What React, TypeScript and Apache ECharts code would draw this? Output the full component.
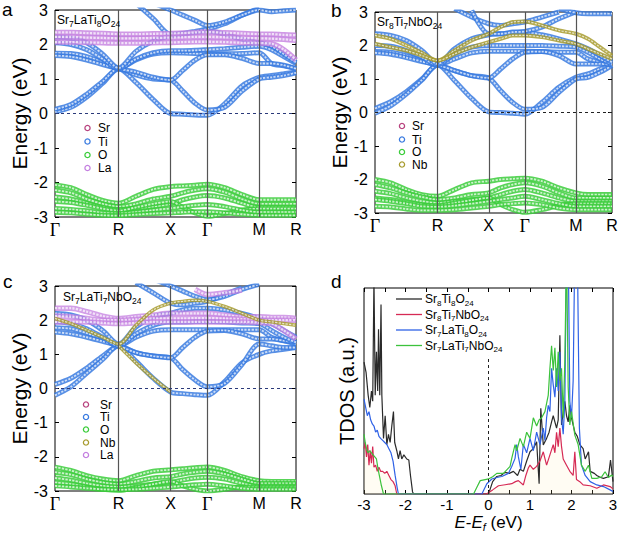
import React, { useEffect, useRef } from 'react';
import * as echarts from 'echarts';

const SANS = '"Liberation Sans", Arial, Helvetica, sans-serif';
const SERIF = '"Liberation Serif", "Times New Roman", serif';

// ---------------- k-path (Γ-R-X-Γ-M-R) ----------------
const kPoints = [0, 0.433, 0.866, 1.299, 1.732, 2.203, 2.675, 3.146, 3.479, 3.813, 4.146, 4.617, 5.089, 5.56, 5.893, 6.227, 6.56];
const kTickValues = [0, 1.732, 3.146, 4.146, 5.56, 6.56];
const kTickLabels = ['Γ', 'R', 'X', 'Γ', 'M', 'R'];

// ---------------- panel a : Sr7LaTi8O24 ----------------
const titleA = 'Sr7LaTi8O24';
const legendA = ['Sr', 'Ti', 'O', 'La'];
const aTi = [
  [0.05, 0.18, 0.48, 0.88, 1.30, 0.90, 0.40, 0.00, -0.02, -0.04, -0.05, 0.28, 0.80, 1.05, 1.10, 1.15, 1.20],
  [0.12, 0.26, 0.56, 0.93, 1.30, 1.12, 1.00, 0.97, 0.65, 0.30, 0.10, 0.18, 0.65, 1.00, 1.05, 1.10, 1.18],
  [1.75, 1.74, 1.65, 1.48, 1.30, 1.55, 1.72, 1.76, 1.75, 1.74, 1.73, 1.73, 1.74, 1.76, 1.45, 1.38, 1.30],
  [1.68, 1.65, 1.55, 1.42, 1.30, 1.20, 1.05, 0.97, 1.25, 1.55, 1.70, 1.70, 1.60, 1.45, 1.45, 1.40, 1.30],
  [2.05, 2.00, 1.85, 1.58, 1.30, 1.58, 1.76, 1.82, 1.82, 1.83, 1.85, 1.88, 1.92, 1.95, 1.85, 1.65, 1.45],
  [2.22, 2.18, 2.05, 1.72, 1.32, 1.80, 2.10, 2.25, 2.30, 2.35, 2.40, 2.30, 2.15, 2.05, 1.95, 1.72, 1.48],
  [null, null, null, null, null, 3.20, 2.75, 2.30, 2.32, 2.38, 2.45, 2.60, 2.85, 3.05, null, null, null],
  [null, null, null, null, null, null, 3.20, 3.00, 2.85, 2.70, 2.55, 2.65, 2.85, 3.00, 2.95, 2.98, 3.00],
];
const aLa = [
  [2.35, 2.35, 2.33, 2.32, 2.30, 2.30, 2.31, 2.32, 2.33, 2.35, 2.36, 2.34, 2.32, 2.30, 2.30, 2.28, 2.27],
  [2.22, 2.22, 2.20, 2.19, 2.18, 2.18, 2.19, 2.20, 2.21, 2.22, 2.22, 2.21, 2.19, 2.18, 2.17, 2.15, 2.12],
  [2.07, 2.07, 2.06, 2.05, 2.04, 2.04, 2.05, 2.06, 2.07, 2.08, 2.08, 2.07, 2.05, 2.04, 2.02, 1.85, 1.55],
];
const aO = [
  [-2.07, -2.15, -2.35, -2.52, -2.60, -2.40, -2.20, -2.12, -2.10, -2.08, -2.05, -2.15, -2.35, -2.50, -2.50, -2.50, -2.50],
  [-2.22, -2.30, -2.48, -2.62, -2.70, -2.62, -2.48, -2.40, -2.30, -2.22, -2.18, -2.28, -2.48, -2.62, -2.62, -2.62, -2.62],
  [-2.42, -2.48, -2.60, -2.72, -2.78, -2.75, -2.70, -2.62, -2.50, -2.42, -2.38, -2.45, -2.60, -2.72, -2.72, -2.72, -2.72],
  [-2.55, -2.58, -2.66, -2.76, -2.82, -2.72, -2.62, -2.55, -2.72, -2.88, -2.98, -2.90, -2.80, -2.76, -2.76, -2.76, -2.76],
  [-2.75, -2.78, -2.82, -2.88, -2.90, -2.86, -2.80, -2.75, -2.70, -2.66, -2.64, -2.70, -2.80, -2.86, -2.86, -2.86, -2.86],
  [-2.86, -2.88, -2.92, -2.95, -2.96, -2.93, -2.90, -2.88, -2.86, -2.85, -2.85, -2.88, -2.92, -2.95, -2.95, -2.95, -2.95],
];

// ---------------- panel b : Sr8Ti7NbO24 ----------------
const titleB = 'Sr8Ti7NbO24';
const legendB = ['Sr', 'Ti', 'O', 'Nb'];
const bTi = [
  [0.12, 0.32, 0.62, 1.00, 1.42, 0.95, 0.42, 0.02, 0.00, -0.02, -0.05, 0.30, 0.75, 1.05, 1.15, 1.30, 1.42],
  [-0.02, 0.20, 0.55, 0.97, 1.42, 1.25, 1.10, 1.03, 0.65, 0.30, 0.10, 0.15, 0.60, 1.00, 1.05, 1.20, 1.40],
  [1.82, 1.80, 1.70, 1.55, 1.42, 1.60, 1.78, 1.83, 1.83, 1.83, 1.83, 1.82, 1.80, 1.80, 1.60, 1.50, 1.42],
  [1.78, 1.74, 1.64, 1.52, 1.42, 1.25, 1.10, 1.03, 1.30, 1.60, 1.80, 1.82, 1.70, 1.45, 1.45, 1.45, 1.43],
  [2.00, 1.98, 1.85, 1.65, 1.42, 1.75, 1.95, 2.00, 2.00, 2.00, 2.00, 2.00, 1.98, 1.95, 1.80, 1.60, 1.45],
  [2.35, 2.30, 2.15, 1.85, 1.45, 1.90, 2.20, 2.32, 2.35, 2.38, 2.40, 2.32, 2.20, 2.05, 1.90, 1.70, 1.50],
  [null, null, null, null, null, 3.10, 2.85, 2.65, 2.60, 2.65, 2.70, 2.85, 3.00, null, null, null, null],
  [null, null, null, null, null, null, 3.05, 2.35, 2.35, 2.40, 2.42, 2.55, 2.80, 3.00, null, null, null],
  [null, null, null, null, null, null, null, null, null, null, null, null, 3.10, 2.98, 2.95, 2.95, 2.95],
];
const bNb = [
  [2.30, 2.20, 2.00, 1.78, 1.55, 1.85, 2.15, 2.35, 2.55, 2.70, 2.72, 2.60, 2.45, 2.35, 2.20, 1.95, 1.70],
  [2.05, 1.95, 1.85, 1.70, 1.55, 1.75, 1.95, 2.10, 2.20, 2.30, 2.30, 2.25, 2.15, 2.05, 1.90, 1.75, 1.60],
];
const bO = [
  [-2.00, -2.10, -2.30, -2.45, -2.50, -2.30, -2.10, -2.05, -2.00, -1.98, -1.96, -2.05, -2.25, -2.40, -2.45, -2.45, -2.45],
  [-2.15, -2.25, -2.40, -2.52, -2.60, -2.55, -2.45, -2.40, -2.25, -2.15, -2.10, -2.20, -2.40, -2.55, -2.55, -2.55, -2.55],
  [-2.35, -2.42, -2.55, -2.65, -2.70, -2.65, -2.60, -2.55, -2.45, -2.35, -2.30, -2.40, -2.55, -2.65, -2.65, -2.65, -2.65],
  [-2.55, -2.60, -2.68, -2.75, -2.78, -2.70, -2.62, -2.55, -2.75, -2.90, -2.98, -2.90, -2.78, -2.72, -2.72, -2.72, -2.72],
  [-2.60, -2.65, -2.72, -2.80, -2.82, -2.78, -2.72, -2.65, -2.60, -2.55, -2.50, -2.60, -2.72, -2.80, -2.80, -2.80, -2.80],
  [-2.80, -2.82, -2.88, -2.92, -2.92, -2.90, -2.85, -2.80, -2.75, -2.72, -2.70, -2.75, -2.85, -2.90, -2.90, -2.90, -2.90],
];

// ---------------- panel c : Sr7LaTi7NbO24 ----------------
const titleC = 'Sr7LaTi7NbO24';
const legendC = ['Sr', 'Ti', 'O', 'Nb', 'La'];
const cTi = [
  [0.12, 0.30, 0.60, 0.95, 1.25, 0.80, 0.30, -0.10, -0.15, -0.18, -0.20, 0.20, 0.75, 1.00, 1.10, 1.15, 1.20],
  [-0.20, 0.05, 0.45, 0.85, 1.25, 1.05, 0.95, 0.90, 0.55, 0.25, 0.05, 0.15, 0.70, 1.30, 1.25, 1.20, 1.20],
  [1.78, 1.75, 1.62, 1.45, 1.25, 1.50, 1.68, 1.72, 1.72, 1.72, 1.72, 1.72, 1.72, 1.72, 1.50, 1.40, 1.30],
  [1.65, 1.60, 1.50, 1.38, 1.25, 1.05, 0.95, 0.90, 1.20, 1.50, 1.68, 1.70, 1.60, 1.45, 1.45, 1.40, 1.35],
  [1.95, 1.90, 1.75, 1.50, 1.25, 1.60, 1.85, 1.95, 1.95, 1.96, 1.97, 1.95, 1.92, 1.90, 1.70, 1.50, 1.35],
  [2.20, 2.15, 2.00, 1.70, 1.30, 1.80, 2.10, 2.20, 2.30, 2.35, 2.35, 2.30, 2.20, 2.05, 1.90, 1.70, 1.50],
  [null, null, null, null, null, 3.10, 2.80, 2.50, 2.45, 2.50, 2.55, 2.75, 2.95, null, null, null, null],
  [null, null, null, null, null, null, 3.20, 3.00, 2.85, 2.70, 2.60, 2.70, 2.90, 3.05, null, null, null],
];
const cLa = [
  [2.35, 2.35, 2.25, 2.12, 2.05, 2.10, 2.15, 2.20, 2.20, 2.20, 2.20, 2.15, 2.10, 2.10, 2.08, 2.08, 2.05],
  [2.12, 2.10, 2.05, 2.00, 2.00, 2.02, 2.05, 2.05, 2.05, 2.06, 2.06, 2.05, 2.03, 2.00, 2.00, 2.00, 2.00],
  [1.95, 1.95, 1.95, 1.92, 1.90, 1.92, 1.95, 1.95, 1.95, 1.95, 1.95, 1.95, 1.95, 1.93, 1.90, 1.70, 1.45],
  [null, null, null, null, null, null, null, null, null, 2.90, 2.75, 2.80, 2.88, null, null, null, null],
];
const cNb = [
  [2.05, 1.90, 1.70, 1.50, 1.30, 1.85, 2.30, 2.50, 2.55, 2.58, 2.55, 2.40, 2.20, 2.00, 1.95, 1.90, 1.85],
  [null, null, null, null, 1.25, 0.75, 0.30, -0.10, null, null, null, null, null, null, null, null, null],
];
const cO = [
  [-2.30, -2.40, -2.55, -2.65, -2.70, -2.55, -2.42, -2.38, -2.35, -2.32, -2.30, -2.40, -2.58, -2.70, -2.72, -2.72, -2.72],
  [-2.45, -2.52, -2.65, -2.75, -2.80, -2.72, -2.62, -2.58, -2.50, -2.45, -2.42, -2.50, -2.65, -2.78, -2.78, -2.78, -2.78],
  [-2.62, -2.68, -2.78, -2.85, -2.88, -2.85, -2.80, -2.75, -2.68, -2.62, -2.60, -2.65, -2.78, -2.86, -2.86, -2.86, -2.86],
  [-2.75, -2.80, -2.88, -2.95, -2.98, -2.90, -2.80, -2.72, -2.85, -2.95, -3.00, -2.95, -2.88, -2.90, -2.90, -2.90, -2.90],
  [-2.85, -2.88, -2.92, -2.95, -2.96, -2.95, -2.92, -2.88, -2.85, -2.82, -2.80, -2.85, -2.92, -2.95, -2.95, -2.95, -2.95],
];

// ---------------- panel d : TDOS ----------------
const dosNames = ['Sr8Ti8O24', 'Sr8Ti7NbO24', 'Sr7LaTi8O24', 'Sr7LaTi7NbO24'];
const dosSr8Ti8O24 = [
  [-3, 64], [-2.95, 59], [-2.9, 48], [-2.86, 42], [-2.82, 50], [-2.79, 45], [-2.76, 105], [-2.73, 48], [-2.7, 69],
  [-2.67, 50], [-2.65, 80], [-2.62, 48], [-2.59, 92], [-2.57, 48], [-2.53, 27], [-2.49, 38], [-2.45, 24], [-2.41, 29],
  [-2.37, 25], [-2.33, 33], [-2.29, 40], [-2.26, 25], [-2.21, 21], [-2.17, 17], [-2.13, 21], [-2.09, 17], [-2.04, 19],
  [-1.97, 17], [-1.92, 16.5], [-1.88, 9], [-1.83, 1], [-1.8, 0], [0, 0], [0.05, 3], [0.1, 6], [0.2, 8.5], [0.3, 9],
  [0.4, 10.5], [0.5, 10], [0.6, 11], [0.7, 9], [0.76, 12], [0.84, 11], [0.92, 16], [1.0, 20.5], [1.08, 22], [1.16, 25.4],
  [1.22, 5], [1.26, 41.6], [1.32, 23.8], [1.4, 27], [1.46, 30], [1.52, 35], [1.56, 38], [1.64, 32], [1.68, 36], [1.72, 77],
  [1.76, 33.5], [1.8, 40], [1.84, 45], [1.88, 38], [1.92, 35], [1.96, 43], [2.0, 37], [2.08, 30], [2.14, 28], [2.2, 24],
  [2.28, 22], [2.33, 17], [2.41, 20.5], [2.45, 11], [2.55, 10], [2.61, 9], [2.7, 8], [2.77, 7.6], [2.89, 8.4], [2.94, 16.5], [3, 6],
];
const dosSr8Ti7NbO24 = [
  [-3, 22], [-2.97, 25], [-2.94, 18], [-2.91, 24], [-2.88, 14], [-2.85, 21], [-2.82, 15], [-2.79, 23], [-2.76, 13],
  [-2.72, 14], [-2.68, 11], [-2.64, 13], [-2.6, 11], [-2.55, 11], [-2.5, 10], [-2.45, 11], [-2.4, 9], [-2.35, 7],
  [-2.3, 6], [-2.25, 4], [-2.21, 0], [-0.05, 0], [0.1, 2], [0.24, 4], [0.4, 4.5], [0.56, 5], [0.65, 6], [0.72, 6.5],
  [0.84, 4.4], [0.9, 9], [0.96, 12.6], [1.0, 14], [1.08, 12], [1.16, 13.4], [1.24, 16], [1.32, 20.5], [1.4, 14],
  [1.48, 19], [1.56, 24], [1.6, 20], [1.64, 30], [1.68, 23], [1.72, 32], [1.76, 23], [1.8, 17], [1.88, 14], [1.96, 11],
  [2.04, 9], [2.08, 20.5], [2.12, 7], [2.2, 6], [2.28, 4.4], [2.45, 4], [2.61, 2.8], [2.77, 4.4], [2.93, 3.6], [3, 2.5],
];
const dosSr7LaTi8O24 = [
  [-3, 46], [-2.96, 42], [-2.92, 38], [-2.88, 40], [-2.84, 36], [-2.8, 34], [-2.76, 33], [-2.72, 30], [-2.68, 31],
  [-2.64, 28], [-2.6, 27], [-2.55, 26], [-2.5, 25], [-2.45, 24], [-2.4, 22], [-2.35, 20], [-2.3, 16], [-2.25, 9],
  [-2.2, 3], [-2.17, 0], [-0.16, 0], [-0.04, 5], [0.08, 7.3], [0.2, 8], [0.32, 8.5], [0.48, 10], [0.56, 13.4],
  [0.64, 17.3], [0.68, 24], [0.72, 18], [0.78, 12], [0.84, 24], [0.92, 20], [1.0, 27], [1.08, 21], [1.16, 30],
  [1.24, 24], [1.32, 32], [1.36, 26], [1.4, 37], [1.44, 43], [1.48, 40], [1.52, 61], [1.56, 53], [1.6, 47], [1.64, 61],
  [1.68, 50], [1.72, 69], [1.76, 37], [1.8, 29], [1.84, 45], [1.88, 120], [1.92, 120], [1.96, 45], [2.0, 37], [2.04, 55],
  [2.08, 120], [2.14, 120], [2.19, 32], [2.24, 14], [2.33, 9], [2.45, 6], [2.61, 4.4], [2.77, 3.6], [2.93, 2], [3, 1.2],
];
const dosSr7LaTi7NbO24 = [
  [-3, 29], [-2.97, 25], [-2.94, 22], [-2.9, 20], [-2.86, 21], [-2.82, 20], [-2.78, 19], [-2.74, 18], [-2.7, 17],
  [-2.66, 12], [-2.62, 8], [-2.58, 4], [-2.53, 0], [-0.36, 0], [-0.28, 3.3], [-0.2, 6.5], [-0.08, 7], [0, 7.3],
  [0.1, 8.4], [0.2, 10], [0.36, 10], [0.52, 13.4], [0.56, 17.3], [0.64, 24], [0.68, 21], [0.76, 27], [0.84, 23],
  [0.92, 30], [1.0, 27], [1.08, 37], [1.16, 33], [1.22, 36], [1.28, 37], [1.36, 40], [1.44, 48], [1.48, 61], [1.52, 72],
  [1.56, 60], [1.6, 71], [1.64, 52], [1.68, 69], [1.72, 55], [1.76, 61], [1.8, 37], [1.84, 65], [1.88, 120], [1.92, 52],
  [1.96, 33.5], [2.0, 40], [2.08, 28.6], [2.16, 24], [2.24, 14], [2.33, 11], [2.41, 14], [2.49, 7.6], [2.61, 7.6],
  [2.73, 8.4], [2.81, 10.8], [2.89, 8], [2.97, 9.2], [3, 8.5],
];
const fermiMarkerTop = 67;

// ---------------- styling ----------------
const ELEMENT_COLORS: Record<string, string> = {
  Sr: '#b8437f',
  Ti: '#3a7be0',
  O: '#3bcd3b',
  La: '#c47fe0',
  Nb: '#a89c30',
};
const DOS_COLORS = ['#2a2a2a', '#d62a55', '#2f62e6', '#3cc23c'];

function chem(s: string) {
  return s.replace(/(\d+)|([^\d]+)/g, (_t, d, w) => (d ? `{s|${d}}` : `{m|${w}}`));
}
function chemRich(main: number, sub: number) {
  return {
    m: { fontSize: main, lineHeight: main + 4, verticalAlign: 'middle', fontFamily: SANS },
    s: { fontSize: sub, lineHeight: sub, verticalAlign: 'bottom', fontFamily: SANS },
  };
}

// each band: a coloured stroke plus a white dashed core, giving the chained-ring look of fat bands
function bandSeries(list: (number | null)[][], el: string, grid: number, width: number, opacity: number) {
  const out: any[] = [];
  list.forEach((b) => {
    const data = b.map((e, i) => [kPoints[i], e]);
    const common = {
      type: 'line',
      xAxisIndex: grid,
      yAxisIndex: grid,
      data,
      smooth: 0.3,
      showSymbol: false,
      symbol: 'none',
      connectNulls: false,
      silent: true,
      emphasis: { disabled: true },
    };
    out.push({ ...common, name: el, lineStyle: { color: ELEMENT_COLORS[el], width, opacity } });
    out.push({
      ...common,
      name: el + '-core',
      lineStyle: { color: '#ffffff', width: Math.max(1.2, width - 3.2), opacity: 0.7, type: [2.2, 1.3] },
    });
  });
  return out;
}

function guideSeries(grid: number, zeroColor: string) {
  return {
    type: 'line',
    xAxisIndex: grid,
    yAxisIndex: grid,
    data: [],
    silent: true,
    markLine: {
      silent: true,
      symbol: ['none', 'none'],
      label: { show: false },
      emphasis: { disabled: true },
      data: [
        ...kTickValues.slice(1, -1).map((v) => ({ xAxis: v, lineStyle: { color: '#555', width: 1.2, type: 'solid' } })),
        { yAxis: 0, lineStyle: { color: zeroColor, width: 1, type: [3, 3] } },
      ],
    },
  };
}

function kLabel(v: number) {
  let idx = 0;
  let best = 1e9;
  kTickValues.forEach((t, i) => {
    if (Math.abs(t - v) < best) {
      best = Math.abs(t - v);
      idx = i;
    }
  });
  const l = kTickLabels[idx];
  return l === 'Γ' ? '{g|Γ}' : `{n|${l}}`;
}

function bandXAxis(grid: number) {
  return {
    type: 'value',
    gridIndex: grid,
    min: 0,
    max: 6.56,
    axisLine: { show: false },
    axisTick: { show: false },
    splitLine: { show: false },
    axisLabel: {
      customValues: kTickValues,
      formatter: kLabel,
      margin: 4,
      color: '#000',
      showMinLabel: true,
      showMaxLabel: true,
      hideOverlap: false,
      rich: {
        g: { fontFamily: SERIF, fontSize: 18, color: '#000' },
        n: { fontFamily: SANS, fontSize: 16, color: '#000' },
      },
    },
  };
}

function bandYAxis(grid: number) {
  return {
    type: 'value',
    gridIndex: grid,
    min: -3,
    max: 3,
    interval: 1,
    axisLine: { show: false },
    axisTick: { show: true, inside: true, length: 4, lineStyle: { color: '#000' } },
    splitLine: { show: false },
    axisLabel: { fontSize: 16, color: '#000', margin: 7, fontFamily: SANS },
    name: 'Energy (eV)',
    nameLocation: 'middle',
    nameGap: 24,
    nameTextStyle: { fontSize: 21, color: '#000', fontFamily: SANS },
  };
}

function bandYAxisRight(grid: number) {
  return {
    type: 'value',
    gridIndex: grid,
    position: 'right',
    min: -3,
    max: 3,
    interval: 1,
    axisLine: { show: false },
    axisTick: { show: true, inside: true, length: 4, lineStyle: { color: '#000' } },
    splitLine: { show: false },
    axisLabel: { show: false },
  };
}

function textEl(x: number, y: number, text: string, fontSize: number, rich?: any) {
  return {
    type: 'text',
    x,
    y,
    silent: true,
    z: 100,
    style: { text, fontSize, fontFamily: SANS, fill: '#000', align: 'left', verticalAlign: 'middle', rich },
  };
}

function bandLegend(items: string[], cx: number, tx: number, ys: number[]) {
  const els: any[] = [];
  items.forEach((it, i) => {
    els.push({
      type: 'circle',
      silent: true,
      z: 100,
      shape: { cx, cy: ys[i], r: 2.6 },
      style: { fill: 'none', stroke: ELEMENT_COLORS[it], lineWidth: 1.3 },
    });
    els.push(textEl(tx, ys[i], it, 12));
  });
  return els;
}

function buildOption() {
  const grids = [
    { left: 55, top: 10, width: 241, height: 207 },
    { left: 375, top: 12, width: 237, height: 201 },
    { left: 55, top: 286, width: 241, height: 205 },
    { left: 364, top: 288, width: 249, height: 206 },
  ].map((g) => ({ ...g, show: true, borderColor: '#000', borderWidth: 1, backgroundColor: 'transparent', containLabel: false, outerBoundsMode: 'none' }));

  const series: any[] = [];
  // panel a
  series.push(guideSeries(0, '#2b3a7a'));
  series.push(...bandSeries(aO, 'O', 0, 5, 0.85));
  series.push(...bandSeries(aTi, 'Ti', 0, 5, 0.85));
  series.push(...bandSeries(aLa, 'La', 0, 5.5, 0.8));
  // panel b
  series.push(guideSeries(1, '#222'));
  series.push(...bandSeries(bO, 'O', 1, 5, 0.85));
  series.push(...bandSeries(bTi, 'Ti', 1, 5, 0.85));
  series.push(...bandSeries(bNb, 'Nb', 1, 4, 0.85));
  // panel c
  series.push(guideSeries(2, '#2b3a7a'));
  series.push(...bandSeries(cO, 'O', 2, 5, 0.85));
  series.push(...bandSeries(cTi, 'Ti', 2, 5, 0.85));
  series.push(...bandSeries(cLa, 'La', 2, 5.5, 0.75));
  series.push(...bandSeries(cNb, 'Nb', 2, 3.5, 0.85));

  // panel d
  const dosData = [dosSr8Ti8O24, dosSr8Ti7NbO24, dosSr7LaTi8O24, dosSr7LaTi7NbO24];
  dosData.forEach((d, i) => {
    series.push({
      type: 'line',
      name: dosNames[i],
      xAxisIndex: 3,
      yAxisIndex: 3,
      data: d,
      showSymbol: false,
      symbol: 'none',
      silent: true,
      lineStyle: { color: DOS_COLORS[i], width: 1.2 },
      areaStyle: i === 1 ? { color: 'rgba(255,236,170,0.2)' } : undefined,
      emphasis: { disabled: true },
      markLine:
        i === 0
          ? {
              silent: true,
              symbol: ['none', 'none'],
              label: { show: false },
              emphasis: { disabled: true },
              lineStyle: { color: '#222', width: 1, type: [3, 3] },
              data: [[{ coord: [0, 0] }, { coord: [0, fermiMarkerTop] }]],
            }
          : undefined,
    });
  });

  const graphic: any[] = [
    textEl(2, 9.5, 'a', 19),
    textEl(331, 10.5, 'b', 19),
    textEl(3, 281, 'c', 19),
    textEl(331, 281, 'd', 19),
    textEl(57, 20, chem(titleA), 12, chemRich(12, 8.5)),
    textEl(377, 22, chem(titleB), 12, chemRich(12, 8.5)),
    textEl(63, 297, chem(titleC), 12, chemRich(12, 8.5)),
    ...bandLegend(legendA, 87.5, 98, [128, 141.5, 155, 168]),
    ...bandLegend(legendB, 402, 412, [126, 139.5, 152, 164.5]),
    ...bandLegend(legendC, 86, 100, [404.5, 417, 429.5, 442.5, 455]),
  ];
  const dosLegendY = [299, 314.5, 330, 345.5];
  dosNames.forEach((n, i) => {
    graphic.push({
      type: 'line',
      silent: true,
      shape: { x1: 396, y1: dosLegendY[i], x2: 422, y2: dosLegendY[i] },
      style: { stroke: DOS_COLORS[i], lineWidth: 1.3 },
    });
    graphic.push(textEl(425, dosLegendY[i], chem(n), 12, chemRich(12, 8)));
  });

  return {
    animation: false,
    backgroundColor: '#fff',
    textStyle: { fontFamily: SANS },
    grid: grids,
    xAxis: [
      bandXAxis(0),
      bandXAxis(1),
      bandXAxis(2),
      {
        type: 'value',
        gridIndex: 3,
        min: -3,
        max: 3,
        interval: 1,
        axisLine: { show: false },
        axisTick: { show: true, inside: true, length: 4, lineStyle: { color: '#000' } },
        minorTick: { show: true, splitNumber: 2, length: 4, lineStyle: { color: '#000' } },
        splitLine: { show: false },
        minorSplitLine: { show: false },
        axisLabel: { fontSize: 15, color: '#000', margin: 3, fontFamily: SANS },
        name: '{i|E}-{i|E}{f|f} (eV)',
        nameLocation: 'middle',
        nameGap: 12,
        nameTextStyle: {
          fontSize: 17,
          color: '#000',
          fontFamily: SANS,
          verticalAlign: 'top',
          lineHeight: 20,
          rich: {
            i: { fontStyle: 'italic', fontSize: 17, lineHeight: 20, verticalAlign: 'middle', fontFamily: SANS, color: '#000' },
            f: { fontStyle: 'italic', fontSize: 11, lineHeight: 11, verticalAlign: 'bottom', fontFamily: SANS, color: '#000' },
          },
        },
      },
      {
        type: 'value',
        gridIndex: 3,
        position: 'top',
        min: -3,
        max: 3,
        interval: 0.5,
        axisLine: { show: false },
        axisTick: { show: true, inside: true, length: 4, lineStyle: { color: '#000' } },
        splitLine: { show: false },
        axisLabel: { show: false },
      },
    ],
    yAxis: [
      bandYAxis(0),
      bandYAxis(1),
      bandYAxis(2),
      {
        type: 'value',
        gridIndex: 3,
        min: 0,
        max: 100,
        axisLine: { show: false },
        axisTick: { show: false },
        axisLabel: { show: false },
        splitLine: { show: false },
        name: 'TDOS (a.u.)',
        nameLocation: 'middle',
        nameGap: 7,
        nameTextStyle: { fontSize: 20, color: '#000', fontFamily: SANS },
      },
      bandYAxisRight(0),
      bandYAxisRight(1),
      bandYAxisRight(2),
    ],
    series,
    graphic,
  };
}

export default function App() {
  const ref = useRef<HTMLDivElement>(null);
  useEffect(() => {
    if (!ref.current) return;
    const chart = echarts.init(ref.current, undefined, { renderer: 'svg' });
    chart.setOption(buildOption() as any);
    return () => chart.dispose();
  }, []);
  return (
    <div
      ref={ref}
      style={{ position: 'absolute', left: 0, top: 0, width: 620, height: 533, background: '#fff' }}
    />
  );
}
